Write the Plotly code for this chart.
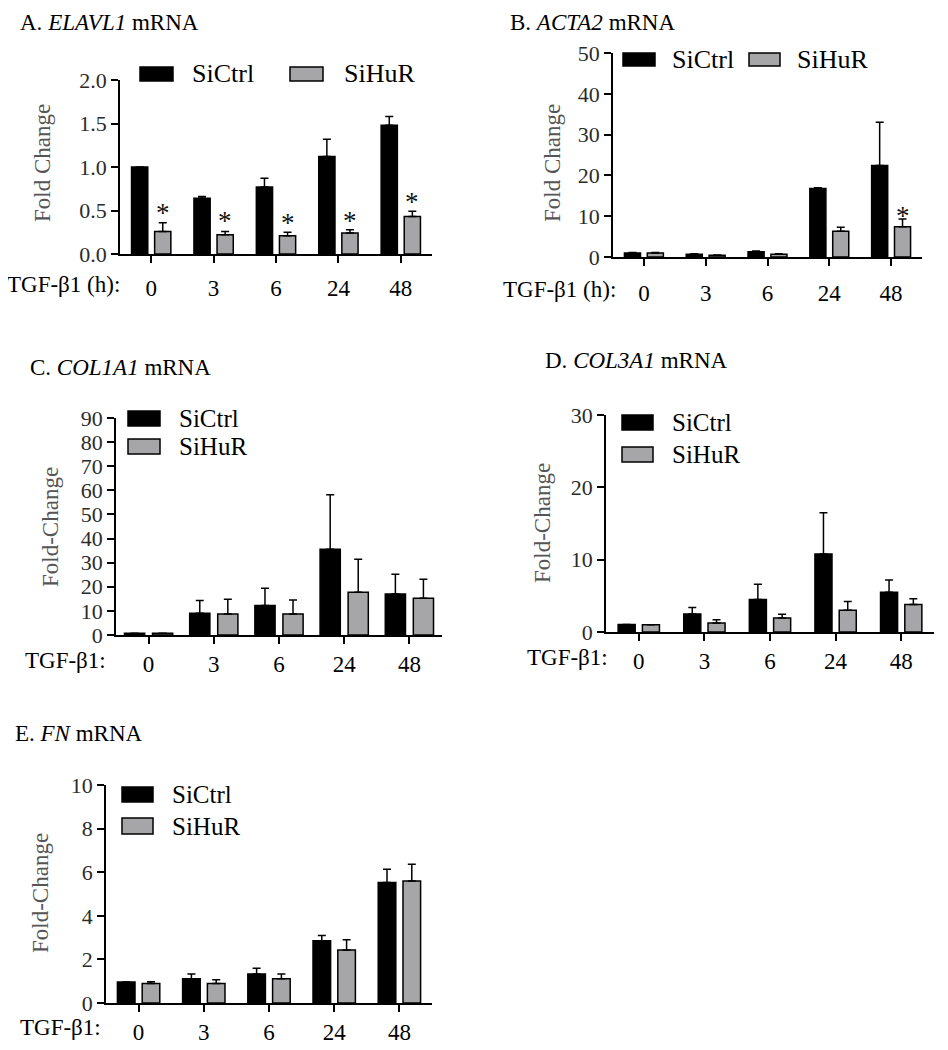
import plotly.graph_objects as go

# The page is shown with an 8 px body margin; positions below are in
# screenshot pixels and converted to paper coordinates.
OFF = 8
W, H = 948 - OFF, 1050 - OFF

# ---------------- data ----------------
time_labels = ["0", "3", "6", "24", "48"]

A_ctrl = [1.00, 0.64, 0.77, 1.12, 1.48]
A_ctrl_err = [0.0, 0.02, 0.10, 0.20, 0.10]
A_hur = [0.26, 0.22, 0.21, 0.24, 0.43]
A_hur_err = [0.10, 0.04, 0.04, 0.04, 0.06]
A_star = [0.54, 0.45, 0.42, 0.45, 0.67]

B_ctrl = [1.0, 0.7, 1.3, 16.8, 22.4]
B_ctrl_err = [0.1, 0.1, 0.2, 0.2, 10.6]
B_hur = [1.0, 0.4, 0.7, 6.3, 7.4]
B_hur_err = [0.1, 0.1, 0.1, 1.0, 1.9]
B_star = [None, None, None, None, 11.6]

C_ctrl = [0.7, 9.0, 12.2, 35.6, 17.0]
C_ctrl_err = [0.0, 5.3, 7.2, 22.6, 8.2]
C_hur = [0.7, 8.7, 8.7, 17.7, 15.2]
C_hur_err = [0.0, 6.1, 5.8, 13.7, 7.9]

D_ctrl = [1.05, 2.5, 4.5, 10.8, 5.5]
D_ctrl_err = [0.0, 0.9, 2.1, 5.7, 1.7]
D_hur = [1.0, 1.25, 1.95, 3.0, 3.8]
D_hur_err = [0.0, 0.45, 0.5, 1.2, 0.8]

E_ctrl = [0.96, 1.11, 1.33, 2.85, 5.53]
E_ctrl_err = [0.0, 0.22, 0.26, 0.25, 0.61]
E_hur = [0.89, 0.89, 1.11, 2.43, 5.60]
E_hur_err = [0.09, 0.18, 0.22, 0.47, 0.77]

series_names = ["SiCtrl", "SiHuR"]
xlabel_A_B = "TGF-β1 (h):"
xlabel_CDE = "TGF-β1:"

# ---------------- style ----------------
SERIF = "Liberation Serif"
BLACK = "#000000"
GREY = "#a6a6a8"
TICK_COL = "#2b2b2b"
YT_COL = "#555555"

def PX(p):
    return (p - OFF) / W

def PY(p):
    return 1 - (p - OFF) / H

panels = [
    dict(ctrl=A_ctrl, ce=A_ctrl_err, hur=A_hur, he=A_hur_err, star=A_star,
         xdom=(120, 432), ydom=(80, 254), rng=[0, 2], dtick=0.5, fmt=".1f",
         w=0.26, g=0.11, standoff=6, legsize=26,
         title="A. <i>ELAVL1</i> mRNA", tpos=(18, 23),
         ytitle="Fold Change", ytpos=(42, 163),
         xlab=xlabel_A_B, xlpos=(122, 285),
         legpos=[(140, 173, 67, 81, 190), (290, 323, 67, 81, 342)]),
    dict(ctrl=B_ctrl, ce=B_ctrl_err, hur=B_hur, he=B_hur_err, star=B_star,
         xdom=(613, 922), ydom=(53, 257), rng=[0, 50], dtick=10, fmt="d",
         w=0.26, g=0.11, standoff=8, legsize=26,
         title="B. <i>ACTA2</i> mRNA", tpos=(508, 22),
         ytitle="Fold Change", ytpos=(552, 163),
         xlab=xlabel_A_B, xlpos=(618, 290),
         legpos=[(623, 655, 53, 66, 670), (749, 780, 53, 66, 795)]),
    dict(ctrl=C_ctrl, ce=C_ctrl_err, hur=C_hur, he=C_hur_err, star=None,
         xdom=(116, 442), ydom=(418, 635), rng=[0, 90], dtick=10, fmt="d",
         w=0.31, g=0.12, standoff=1, legsize=25,
         title="C. <i>COL1A1</i> mRNA", tpos=(28, 367),
         ytitle="Fold-Change", ytpos=(50, 527),
         xlab=xlabel_CDE, xlpos=(108, 660),
         legpos=[(128, 160, 411, 426, 177), (128, 160, 439, 454, 177)]),
    dict(ctrl=D_ctrl, ce=D_ctrl_err, hur=D_hur, he=D_hur_err, star=None,
         xdom=(606, 934), ydom=(415, 632), rng=[0, 30], dtick=10, fmt="d",
         w=0.26, g=0.11, standoff=1, legsize=25,
         title="D. <i>COL3A1</i> mRNA", tpos=(543, 360),
         ytitle="Fold-Change", ytpos=(542, 523),
         xlab=xlabel_CDE, xlpos=(610, 657),
         legpos=[(622, 653, 415, 430, 670), (622, 653, 447, 462, 670)]),
    dict(ctrl=E_ctrl, ce=E_ctrl_err, hur=E_hur, he=E_hur_err, star=None,
         xdom=(106, 432), ydom=(785, 1003), rng=[0, 10], dtick=2, fmt="d",
         w=0.27, g=0.11, standoff=1, legsize=25,
         title="E. <i>FN</i> mRNA", tpos=(13, 733),
         ytitle="Fold-Change", ytpos=(40, 893),
         xlab=xlabel_CDE, xlpos=(103, 1027),
         legpos=[(122, 153, 787, 802, 170), (122, 153, 818, 834, 170)]),
]

fig = go.Figure()
annotations = []
shapes = []
xpos = list(range(len(time_labels)))

for i, p in enumerate(panels):
    n = "" if i == 0 else str(i + 1)
    xa, ya = "x" + n, "y" + n
    w, g = p["w"], p["g"]
    for vals, errs, color, name, off in [
        (p["ctrl"], p["ce"], BLACK, series_names[0], -g / 2 - w),
        (p["hur"], p["he"], GREY, series_names[1], g / 2),
    ]:
        fig.add_trace(go.Bar(
            x=xpos, y=vals, name=name, xaxis=xa, yaxis=ya,
            width=w, offset=off,
            marker=dict(color=color, line=dict(color=BLACK, width=1.5)),
            error_y=dict(type="data", symmetric=False, array=errs,
                         arrayminus=[0] * len(errs), color=BLACK,
                         thickness=1.5, width=4),
            showlegend=False,
        ))
    x0, x1 = p["xdom"]
    top, bot = p["ydom"]
    fig.layout["xaxis" + n] = dict(
        domain=[PX(x0), PX(x1)], anchor=ya, range=[-0.5, len(time_labels) - 0.5],
        tickvals=xpos, ticktext=time_labels, ticks="outside", ticklen=7,
        tickwidth=1.5, tickcolor=BLACK, showline=True, linecolor=BLACK,
        linewidth=1.5, showgrid=False, zeroline=False, automargin=False,
        tickfont=dict(family=SERIF, size=23, color=BLACK),
        ticklabelstandoff=p["standoff"],
    )
    fig.layout["yaxis" + n] = dict(
        domain=[PY(bot), PY(top)], anchor=xa, range=p["rng"], dtick=p["dtick"],
        tick0=0, tickformat=p["fmt"], ticks="outside", ticklen=7,
        tickwidth=1.5, tickcolor=BLACK, showline=True, linecolor=BLACK,
        linewidth=1.5, showgrid=False, zeroline=False, automargin=False,
        tickfont=dict(family=SERIF, size=22, color=TICK_COL),
    )
    if p["star"] is not None:
        for j, s in enumerate(p["star"]):
            if s is None:
                continue
            annotations.append(dict(
                x=j + g / 2 + w / 2, y=s, xref=xa, yref=ya, text="*",
                showarrow=False, yanchor="middle", yshift=-6,
                font=dict(family=SERIF, size=27, color="#111111"),
            ))
    annotations.append(dict(
        x=PX(p["tpos"][0]), y=PY(p["tpos"][1]), xref="paper", yref="paper",
        xanchor="left", yanchor="middle", text=p["title"], showarrow=False,
        font=dict(family=SERIF, size=23, color=BLACK),
    ))
    annotations.append(dict(
        x=PX(p["ytpos"][0]), y=PY(p["ytpos"][1]), xref="paper", yref="paper",
        xanchor="center", yanchor="middle", text=p["ytitle"], textangle=-90,
        showarrow=False, font=dict(family=SERIF, size=23, color=YT_COL),
    ))
    annotations.append(dict(
        x=PX(p["xlpos"][0]), y=PY(p["xlpos"][1]), xref="paper", yref="paper",
        xanchor="right", yanchor="middle", text=p["xlab"], showarrow=False,
        font=dict(family=SERIF, size=23, color=BLACK),
    ))
    for (lx0, lx1, ly0, ly1, tx), color, name in zip(p["legpos"], [BLACK, GREY], series_names):
        shapes.append(dict(
            type="rect", xref="paper", yref="paper",
            x0=PX(lx0), x1=PX(lx1), y0=PY(ly1), y1=PY(ly0),
            fillcolor=color, line=dict(color=BLACK, width=1.5),
        ))
        annotations.append(dict(
            x=PX(tx), y=PY((ly0 + ly1) / 2), xref="paper", yref="paper",
            xanchor="left", yanchor="middle", text=name, showarrow=False,
            font=dict(family=SERIF, size=p["legsize"], color=BLACK),
        ))

fig.update_layout(
    template="none",
    width=W, height=H, margin=dict(l=0, r=0, t=0, b=0, pad=0, autoexpand=False),
    paper_bgcolor="white", plot_bgcolor="white",
    annotations=annotations, shapes=shapes, showlegend=False,
    font=dict(family=SERIF, color=BLACK),
)

fig.write_html("out.html")
